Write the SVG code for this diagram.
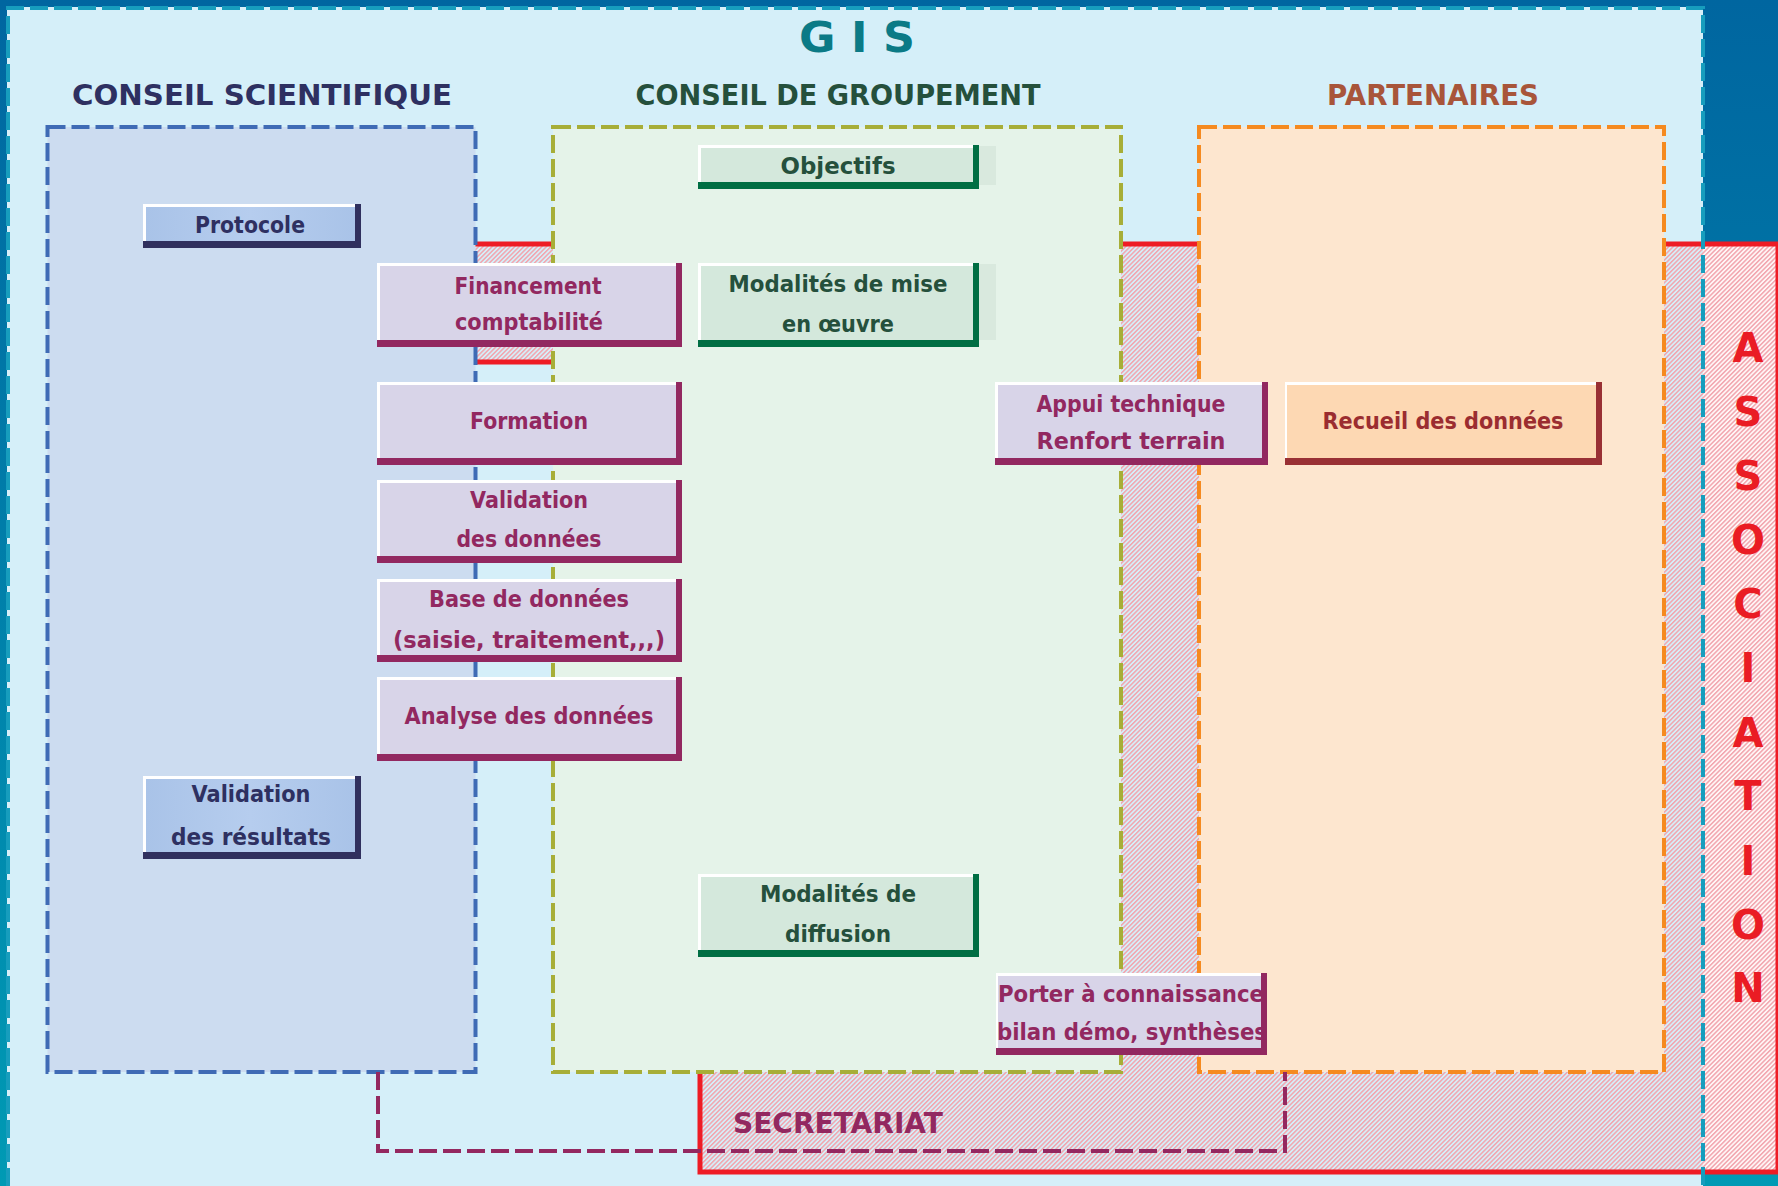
<svg xmlns="http://www.w3.org/2000/svg" width="1778" height="1186" viewBox="0 0 1778 1186">
<defs>
  <linearGradient id="bg" x1="0" y1="0" x2="0" y2="1">
    <stop offset="0" stop-color="#0066a0"/>
    <stop offset="1" stop-color="#009ab4"/>
  </linearGradient>
  <linearGradient id="navyFill" x1="0" y1="0" x2="1" y2="0">
    <stop offset="0" stop-color="#a9c3e8"/>
    <stop offset="0.5" stop-color="#b6cdee"/>
    <stop offset="1" stop-color="#a9c3e8"/>
  </linearGradient>
  <pattern id="hatch" patternUnits="userSpaceOnUse" width="3.2" height="3.2" patternTransform="rotate(45)">
    <rect x="0" y="0" width="1.5" height="3.2" fill="#f2a5ae"/>
  </pattern>
  <style>
    text { font-family: "DejaVu Sans", "Liberation Sans", sans-serif; font-weight: bold; }
    .head { font-size: 29px; text-anchor: middle; }
    .item { font-size: 23px; text-anchor: middle; }
    .purple { fill: #922860; }
    .navy { fill: #2e3061; }
    .green { fill: #25503c; }
    .brown { fill: #9b2d30; }
    .dash { stroke-width: 4; stroke-dasharray: 18 6; }
    .hl { fill: #ffffff; }
    .assoc { font-size: 40px; fill: #ea1c24; text-anchor: middle; }
  </style>
</defs>

<!-- background -->
<rect x="0" y="0" width="1778" height="1186" fill="url(#bg)"/>
<rect id="gis-fill" x="7" y="7" width="1696" height="1190" fill="#d5eff9"/>

<!-- ASSOCIATION area -->
<g id="association">
  <rect x="1703" y="244" width="75" height="928" fill="#fff6f6"/>
  <polygon points="470,244 1778,244 1778,1172 700,1172 700,362 470,362" fill="url(#hatch)" stroke="#ee1c25" stroke-width="5"/>
</g>

<!-- GIS border -->
<path id="gis-border" d="M 8 1186 V 8 H 1703 V 1186" fill="none" stroke="#179dbd" stroke-width="4" stroke-dasharray="18 6"/>

<!-- zones -->
<g id="conseil-scientifique">
  <rect x="47.5" y="127" width="428" height="945" fill="#ccdcf0" stroke="#3f6bb5" class="dash"/>
</g>
<g id="conseil-groupement">
  <rect x="553" y="127" width="568" height="945" fill="#e5f3e9" stroke="#a7ae38" class="dash"/>
</g>
<g id="partenaires">
  <rect x="1199" y="127" width="465" height="945" fill="#fde6cf" stroke="#f58a20" class="dash"/>
</g>
<g id="secretariat">
  <polyline points="378,1072 378,1151 1285,1151 1285,1072" class="dash" fill="none" stroke="#942860"/>
  <text x="838" y="1133" class="purple" style="font-size:28px;text-anchor:middle" textLength="210" lengthAdjust="spacingAndGlyphs">SECRETARIAT</text>
</g>

<!-- headings -->
<text id="title-gis" x="857" y="52" style="font-size:42px;text-anchor:middle;fill:#0b7a86" textLength="116" lengthAdjust="spacingAndGlyphs">G I S</text>
<text x="262" y="105" class="head navy" textLength="380" lengthAdjust="spacingAndGlyphs">CONSEIL SCIENTIFIQUE</text>
<text x="838" y="105" class="head green" textLength="405" lengthAdjust="spacingAndGlyphs">CONSEIL DE GROUPEMENT</text>
<text x="1433" y="105" class="head" style="fill:#a8553a" textLength="212" lengthAdjust="spacingAndGlyphs">PARTENAIRES</text>

<!-- navy items -->
<g id="protocole">
  <rect x="143" y="204" width="218" height="44" fill="#30305e"/>
  <rect x="143" y="204" width="212" height="37" class="hl"/>
  <rect x="146" y="207" width="209" height="34" fill="url(#navyFill)"/>
  <text x="250" y="233" class="item navy" textLength="110" lengthAdjust="spacingAndGlyphs">Protocole</text>
</g>
<g id="validation-resultats">
  <rect x="143" y="776" width="218" height="83" fill="#30305e"/>
  <rect x="143" y="776" width="212" height="76" class="hl"/>
  <rect x="146" y="779" width="209" height="73" fill="url(#navyFill)"/>
  <text x="251" y="802" class="item navy" textLength="119" lengthAdjust="spacingAndGlyphs">Validation</text>
  <text x="251" y="845" class="item navy" textLength="160" lengthAdjust="spacingAndGlyphs">des résultats</text>
</g>

<!-- purple items -->
<g id="financement">
  <rect x="377" y="263" width="305" height="84" fill="#922860"/>
  <rect x="377" y="263" width="299" height="77" class="hl"/>
  <rect x="380" y="266" width="296" height="74" fill="#d8d4e8"/>
  <text x="528" y="294" class="item purple" textLength="147" lengthAdjust="spacingAndGlyphs">Financement</text>
  <text x="529" y="330" class="item purple" textLength="148" lengthAdjust="spacingAndGlyphs">comptabilité</text>
</g>
<g id="formation">
  <rect x="377" y="382" width="305" height="83" fill="#922860"/>
  <rect x="377" y="382" width="299" height="76" class="hl"/>
  <rect x="380" y="385" width="296" height="73" fill="#d8d4e8"/>
  <text x="529" y="429" class="item purple" textLength="118" lengthAdjust="spacingAndGlyphs">Formation</text>
</g>
<g id="validation-donnees">
  <rect x="377" y="480" width="305" height="83" fill="#922860"/>
  <rect x="377" y="480" width="299" height="76" class="hl"/>
  <rect x="380" y="483" width="296" height="73" fill="#d8d4e8"/>
  <text x="529" y="508" class="item purple" textLength="118" lengthAdjust="spacingAndGlyphs">Validation</text>
  <text x="529" y="547" class="item purple" textLength="145" lengthAdjust="spacingAndGlyphs">des données</text>
</g>
<g id="base-donnees">
  <rect x="377" y="579" width="305" height="83" fill="#922860"/>
  <rect x="377" y="579" width="299" height="76" class="hl"/>
  <rect x="380" y="582" width="296" height="73" fill="#d8d4e8"/>
  <text x="529" y="607" class="item purple" textLength="200" lengthAdjust="spacingAndGlyphs">Base de données</text>
  <text x="529" y="648" class="item purple" textLength="272" lengthAdjust="spacingAndGlyphs">(saisie, traitement,,,)</text>
</g>
<g id="analyse">
  <rect x="377" y="677" width="305" height="84" fill="#922860"/>
  <rect x="377" y="677" width="299" height="77" class="hl"/>
  <rect x="380" y="680" width="296" height="74" fill="#d8d4e8"/>
  <text x="529" y="724" class="item purple" textLength="249" lengthAdjust="spacingAndGlyphs">Analyse des données</text>
</g>
<g id="appui">
  <rect x="995" y="382" width="273" height="83" fill="#922860"/>
  <rect x="995" y="382" width="267" height="76" class="hl"/>
  <rect x="998" y="385" width="264" height="73" fill="#d8d4e8"/>
  <text x="1131" y="412" class="item purple" textLength="189" lengthAdjust="spacingAndGlyphs">Appui technique</text>
  <text x="1131" y="449" class="item purple" textLength="189" lengthAdjust="spacingAndGlyphs">Renfort terrain</text>
</g>
<g id="porter">
  <rect x="996" y="973" width="271" height="82" fill="#922860"/>
  <rect x="996" y="973" width="265" height="75" class="hl"/>
  <rect x="998" y="976" width="263" height="72" fill="#d8d4e8"/>
  <text x="998" y="1002" class="purple" style="font-size:23px" textLength="266" lengthAdjust="spacingAndGlyphs">Porter à connaissance</text>
  <text x="997" y="1040" class="purple" style="font-size:23px" textLength="270" lengthAdjust="spacingAndGlyphs">bilan démo, synthèses</text>
  <rect x="1261" y="973" width="6" height="82" fill="#922860"/>
</g>

<!-- orange item -->
<g id="recueil">
  <rect x="1285" y="382" width="317" height="83" fill="#993034"/>
  <rect x="1285" y="382" width="311" height="76" class="hl"/>
  <rect x="1287" y="385" width="309" height="73" fill="#fdd8b3"/>
  <text x="1443" y="429" class="item brown" textLength="241" lengthAdjust="spacingAndGlyphs">Recueil des données</text>
</g>

<!-- green items -->
<g id="objectifs">
  <rect x="979" y="146" width="17" height="39" fill="#d9e9de"/>
  <rect x="698" y="145" width="281" height="44" fill="#006e43"/>
  <rect x="698" y="145" width="275" height="37" class="hl"/>
  <rect x="701" y="148" width="272" height="34" fill="#d4e8dc"/>
  <text x="838" y="174" class="item green" textLength="115" lengthAdjust="spacingAndGlyphs">Objectifs</text>
</g>
<g id="modalites-mise">
  <rect x="979" y="264" width="17" height="76" fill="#d9e9de"/>
  <rect x="698" y="263" width="281" height="84" fill="#006e43"/>
  <rect x="698" y="263" width="275" height="77" class="hl"/>
  <rect x="701" y="266" width="272" height="74" fill="#d4e8dc"/>
  <text x="838" y="292" class="item green" textLength="219" lengthAdjust="spacingAndGlyphs">Modalités de mise</text>
  <text x="838" y="332" class="item green" textLength="112" lengthAdjust="spacingAndGlyphs">en œuvre</text>
</g>
<g id="modalites-diffusion">
  <rect x="698" y="874" width="281" height="83" fill="#006e43"/>
  <rect x="698" y="874" width="275" height="76" class="hl"/>
  <rect x="701" y="877" width="272" height="73" fill="#d4e8dc"/>
  <text x="838" y="902" class="item green" textLength="156" lengthAdjust="spacingAndGlyphs">Modalités de</text>
  <text x="838" y="942" class="item green" textLength="106" lengthAdjust="spacingAndGlyphs">diffusion</text>
</g>

<!-- ASSOCIATION label -->
<g id="association-label" class="assoc">
  <text x="1748" y="362" class="assoc">A</text>
  <text x="1748" y="426" class="assoc">S</text>
  <text x="1748" y="490" class="assoc">S</text>
  <text x="1748" y="554" class="assoc">O</text>
  <text x="1748" y="618" class="assoc">C</text>
  <text x="1748" y="682" class="assoc">I</text>
  <text x="1748" y="747" class="assoc">A</text>
  <text x="1748" y="810" class="assoc">T</text>
  <text x="1748" y="875" class="assoc">I</text>
  <text x="1748" y="939" class="assoc">O</text>
  <text x="1748" y="1002" class="assoc">N</text>
</g>
</svg>
